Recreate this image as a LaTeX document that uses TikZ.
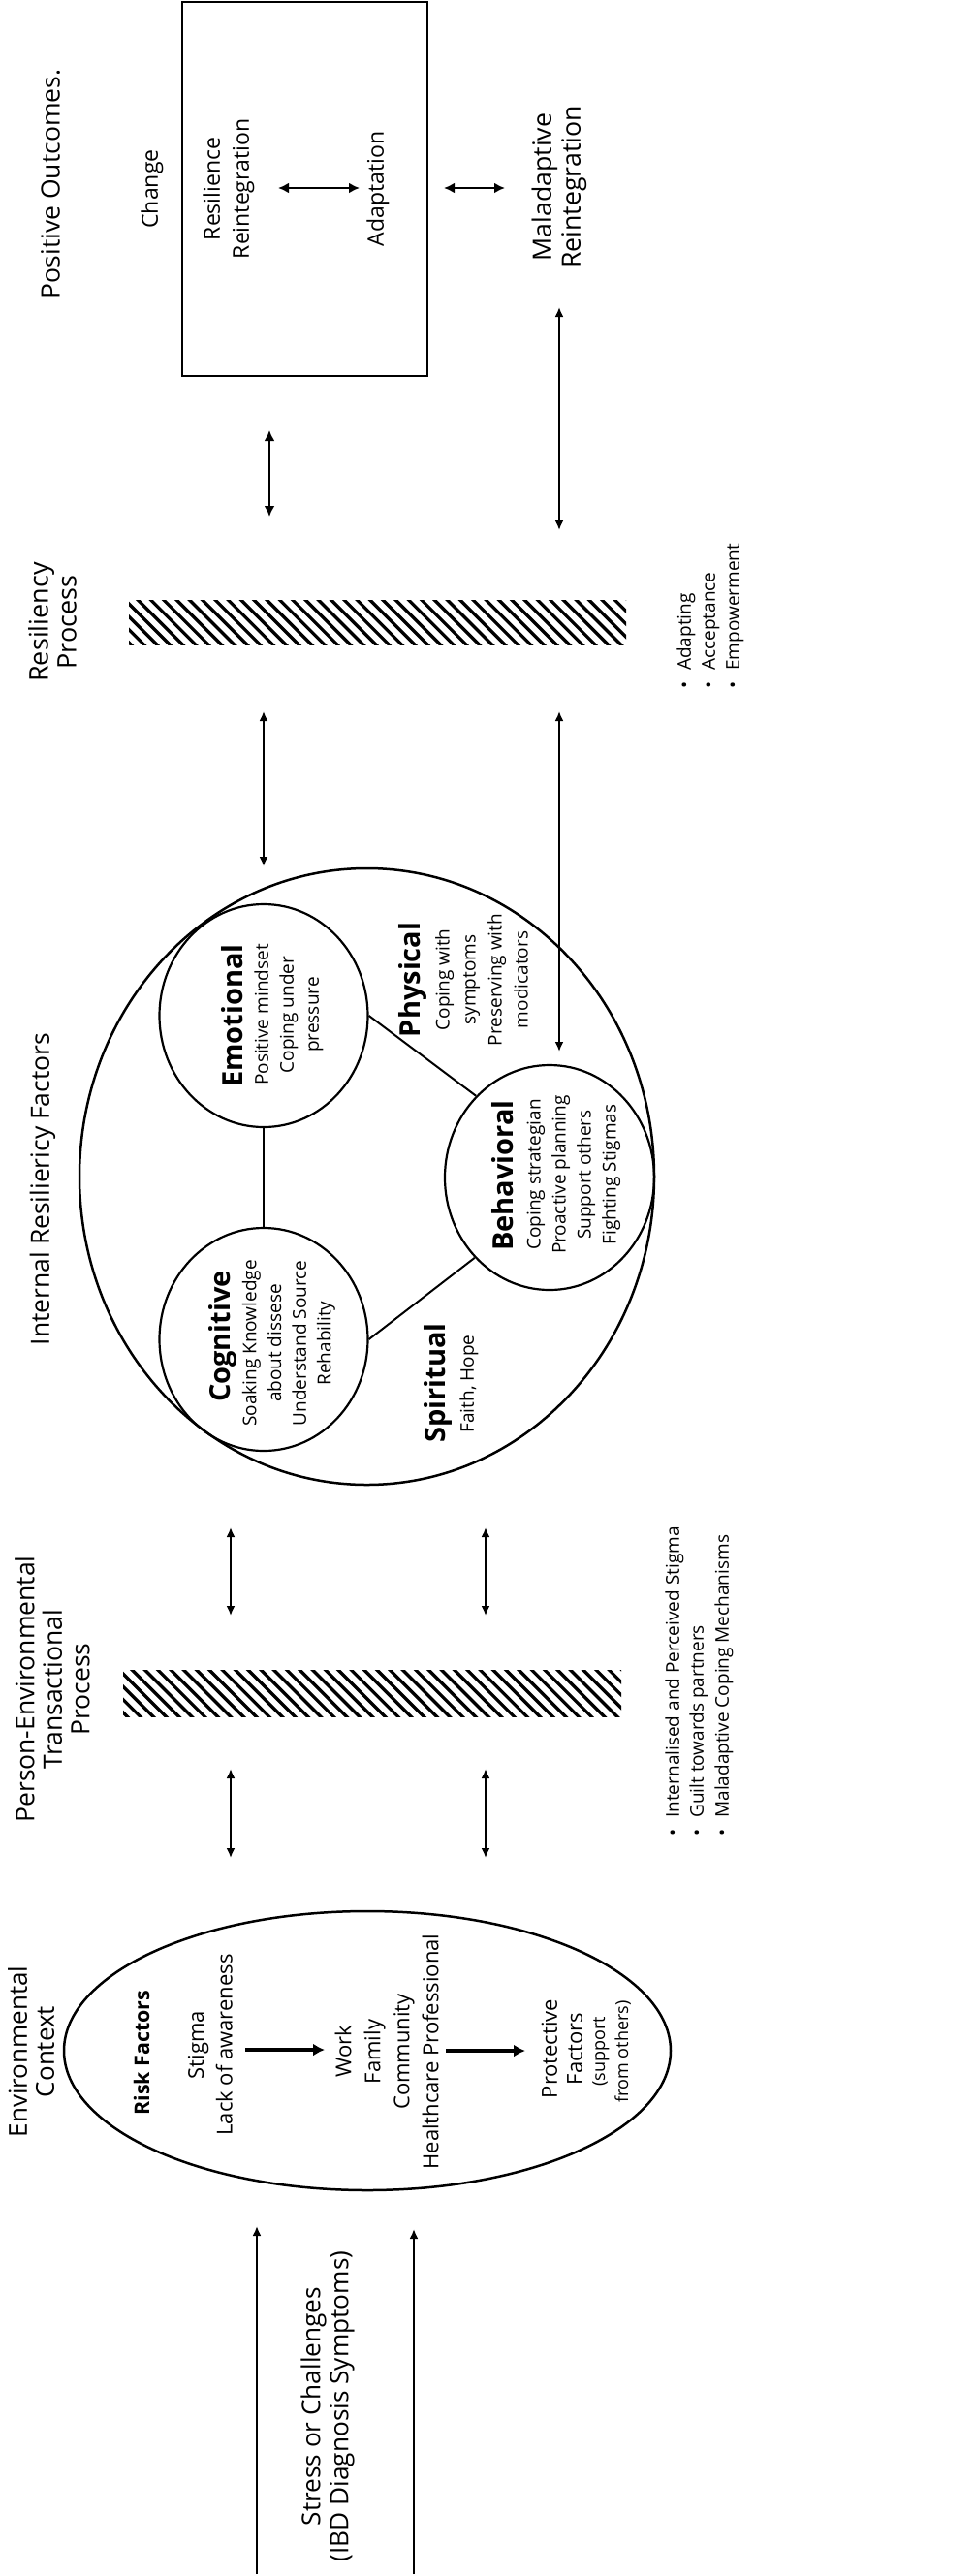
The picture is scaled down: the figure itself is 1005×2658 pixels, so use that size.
\documentclass[tikz,border=0pt]{standalone}
\usepackage{fontspec}
\setmainfont{Open Sans}
\usetikzlibrary{arrows.meta,shapes.geometric}
\begin{document}
\begin{tikzpicture}[x=1pt,y=-1pt,
  lbl/.style={rotate=90, align=center, inner sep=0pt},
  ttl/.style={lbl, font=\fontsize{26.5}{29}\selectfont},
  boxf/.style={lbl, font=\fontsize{23}{30}\selectfont},
  hd/.style={lbl, font=\fontsize{29}{32}\selectfont\bfseries},
  bd/.style={lbl, font=\fontsize{19}{26}\selectfont},
  ctx/.style={lbl, font=\fontsize{22}{29.5}\selectfont},
  sml/.style={lbl, font=\fontsize{18}{24}\selectfont},
  blt/.style={rotate=90, anchor=west, inner sep=0pt, font=\fontsize{19}{25}\selectfont},
  oval/.style={draw, ellipse, line width=2.5pt, inner sep=0pt},
  tip/.tip={Latex[length=10pt,width=9pt]},
  bigtip/.tip={Latex[length=11pt,width=11pt]},
  arr/.style={line width=2pt, tip-tip},
  barr/.style={line width=2.8pt, bigtip-bigtip},
  uarr/.style={line width=2pt, -tip},
  farr/.style={line width=4pt, -{Latex[length=12pt,width=13pt]}},
  hatchline/.style={line width=3.3pt}
]
\useasboundingbox (0,0) rectangle (1005,2658);
\fill[white] (0,0) rectangle (1005,2658);

% ---------- top: outcomes ----------
\node[ttl] (po) at (52,190) {Positive Outcomes.};
\node[draw, line width=2.5pt, minimum width=253pt, minimum height=386pt, inner sep=0pt] (box) at (314.5,195) {};
\node[boxf] (change) at (157,195) {Change};
\node[boxf] (resint) at (236,195) {Resilience\\Reintegration};
\node[boxf] (adapt) at (390,195) {Adaptation};
\node[ttl, font=\fontsize{26.7}{30}\selectfont] (malint) at (577,193) {Maladaptive\\Reintegration};

\coordinate (h1a) at (287,194); \coordinate (h1b) at (371,194);
\coordinate (h2a) at (458,194); \coordinate (h2b) at (521,194);
\draw[barr] (h1a) -- (h1b);
\draw[barr] (h2a) -- (h2b);

\coordinate (v1a) at (278,444); \coordinate (v1b) at (278,533);
\coordinate (v2a) at (577,317); \coordinate (v2b) at (577,547);
\draw[barr] (v1a) -- (v1b);
\draw[arr] (v2a) -- (v2b);

% ---------- resiliency process ----------
\node[ttl, font=\fontsize{27}{29}\selectfont] (rp) at (54,642) {Resiliency\\Process};
\begin{scope}
  \clip (133,619) rectangle (646,665);
  \foreach \i in {0,...,43} {
    \draw[hatchline] ({135.3-4*13.3+\i*13.3},612) -- ++(60,60);
  }
\end{scope}
\node[blt] (b1) at (708,711) {\textbullet\hspace{12pt}Adapting\vphantom{Adg}};
\node[blt] (b2) at (733,711) {\textbullet\hspace{12pt}Acceptance\vphantom{Adg}};
\node[blt] (b3) at (758,711) {\textbullet\hspace{12pt}Empowerment\vphantom{Adg}};

\coordinate (v3a) at (272,734); \coordinate (v3b) at (272,894);
\coordinate (v4a) at (577,734); \coordinate (v4b) at (577,1085);
\draw[arr] (v3a) -- (v3b);
\draw[arr] (v4a) -- (v4b);

% ---------- internal resiliency factors ----------
\node[ttl] (irf) at (44,1227) {Internal Resiliericy Factors};
\node[oval, minimum width=593pt, minimum height=636pt] (outer) at (378.5,1214) {};
\node[oval, line width=2.2pt, minimum width=215pt, minimum height=230pt] (emo) at (272,1048) {};
\node[oval, line width=2.2pt, minimum width=215pt, minimum height=230pt] (cog) at (272,1382) {};
\node[oval, line width=2.2pt, minimum width=216pt, minimum height=232pt] (beh) at (567,1215) {};
\draw[line width=2pt] (emo.south) -- (cog.north);
\draw[line width=2pt] (emo.east) -- (beh.132.5);
\draw[line width=2pt] (cog.east) -- (beh.-133);

\node[hd] (emoh) at (240,1048) {Emotional};
\node[bd] (emob) at (298,1047) {Positive mindset\\Coping under\\pressure};
\node[hd] (cogh) at (230,1379) {Cognitive};
\node[bd, font=\fontsize{19}{25.7}\selectfont] (cogb) at (298,1386) {Soaking Knowledge\\about dissese\\Understand Source\\Rehability};
\node[hd] (behh) at (519,1213) {Behavioral};
\node[bd, font=\fontsize{19}{26}\selectfont] (behb) at (592,1212) {Coping strategian\\Proactive planning\\Support others\\Fighting Stigmas};
\node[hd] (phyh) at (426,1011) {Physical};
\node[bd, font=\fontsize{19}{27}\selectfont] (phyb) at (497,1011) {Coping with\\symptoms\\Preserving with\\modicators};
\node[hd] (spih) at (452,1427) {Spiritual};
\node[bd] (spib) at (484,1428) {Faith, Hope};

% ---------- person-environmental transactional process ----------
\coordinate (v5a) at (238,1576); \coordinate (v5b) at (238,1667);
\coordinate (v6a) at (501,1576); \coordinate (v6b) at (501,1667);
\coordinate (v7a) at (238,1825); \coordinate (v7b) at (238,1917);
\coordinate (v8a) at (501,1825); \coordinate (v8b) at (501,1917);
\draw[arr] (v5a) -- (v5b);
\draw[arr] (v6a) -- (v6b);
\draw[arr] (v7a) -- (v7b);
\draw[arr] (v8a) -- (v8b);

\node[ttl, font=\fontsize{26.5}{28.5}\selectfont] (petp) at (54,1743) {Person-Environmental\\Transactional\\Process};
\begin{scope}
  \clip (127,1723) rectangle (641,1771);
  \foreach \i in {0,...,43} {
    \draw[hatchline] ({129.3-4*13.3+\i*13.3},1716) -- ++(62,62);
  }
\end{scope}
\node[blt] (c1) at (696,1895) {\textbullet\hspace{12pt}Internalised and Perceived Stigma\vphantom{Adg}};
\node[blt] (c2) at (721,1895) {\textbullet\hspace{12pt}Guilt towards partners\vphantom{Adg}};
\node[blt] (c3) at (747,1895) {\textbullet\hspace{12pt}Maladaptive Coping Mechanisms\vphantom{Adg}};

% ---------- environmental context ----------
\node[ttl, font=\fontsize{26}{28}\selectfont] (ec) at (32,2117) {Environmental\\Context};
\node[oval, minimum width=626pt, minimum height=288pt] (env) at (379,2116) {};
\node[lbl, font=\fontsize{21.4}{26}\selectfont\bfseries] (risk) at (146,2118) {Risk Factors};
\node[ctx] (stig) at (217,2110) {Stigma\\Lack of awareness};
\node[ctx, font=\fontsize{22}{30}\selectfont] (work) at (399,2117) {Work\\Family\\Community\\Healthcare Professional};
\node[ctx, font=\fontsize{22}{26}\selectfont] (prot) at (580,2114) {Protective\\Factors};
\node[sml] (supp) at (631,2117) {(support\\from others)};
\coordinate (e1a) at (253,2115); \coordinate (e1b) at (335,2115);
\coordinate (e2a) at (460,2116); \coordinate (e2b) at (542,2116);
\draw[farr] (e1a) -- (e1b);
\draw[farr] (e2a) -- (e2b);

% ---------- stress ----------
\coordinate (s1a) at (265,2656); \coordinate (s1b) at (265,2297);
\coordinate (s2a) at (427,2656); \coordinate (s2b) at (427,2300);
\draw[uarr] (s1a) -- (s1b);
\draw[uarr] (s2a) -- (s2b);
\node[ttl, font=\fontsize{26.2}{29}\selectfont] (stress) at (338,2483) {Stress or Challenges\\(IBD Diagnosis Symptoms)};
\end{tikzpicture}
\end{document}
